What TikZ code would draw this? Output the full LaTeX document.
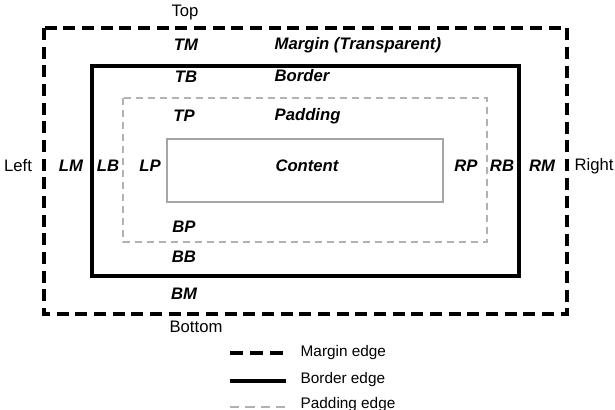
\documentclass[tikz,border=0pt]{standalone}
\usepackage{fontspec}
\setmainfont{Liberation Sans}

\begin{document}
\begin{tikzpicture}[x=0.75pt, y=-0.75pt,
    marginedge/.style={line width=3pt, dash pattern=on 9pt off 5pt},
    borderedge/.style={line width=3pt},
    paddingedge/.style={draw=gray!60, line width=0.9pt, dash pattern=on 5.5pt off 3.5pt},
    contentedge/.style={draw=gray!70, line width=0.8pt},
    side/.style={font=\fontsize{12.5}{14}\selectfont},
    code/.style={font=\fontsize{12.5}{14}\selectfont\bfseries\itshape},
    area/.style={code, anchor=west},
    legendtext/.style={font=\fontsize{11.5}{13}\selectfont, anchor=west}]
                            \useasboundingbox (0, 0) rectangle (615, 410);

                            % the four boxes
                            \draw [marginedge] (44, 28) rectangle (567, 314);
                            \draw [borderedge] (92, 66) rectangle (519, 276);
                            \draw [paddingedge] (123, 98) rectangle (487, 242);
                            \draw [contentedge] (167, 139) rectangle (443, 202);

                            \node (top)[side] at (185, 12) {Top};
                            \node (bottom)[side] at (196, 327) {Bottom};
                            \node (left)[side] at (18, 166) {Left};
                            \node (right)[side] at (594, 166) {Right};

                            \node (TM)[code] at (186, 45) {TM};
                            \node (TB)[code] at (186, 77) {TB};
                            \node (TP)[code] at (184, 116) {TP};
                            \node (BP)[code] at (184, 227) {BP};
                            \node (BB)[code] at (184, 257) {BB};
                            \node (BM)[code] at (184, 294) {BM};

                            \node (LM)[code] at (71, 166) {LM};
                            \node (LB)[code] at (108, 166) {LB};
                            \node (LP)[code] at (150, 166) {LP};
                            \node (RP)[code] at (466, 166) {RP};
                            \node (RB)[code] at (502, 166) {RB};
                            \node (RM)[code] at (542, 166) {RM};

                            \node (margin)[area] at (270, 45) {Margin (Transparent)};
                            \node (border)[area] at (270, 76) {Border};
                            \node (padding)[area] at (270, 116) {Padding};
                            \node (content)[code] at (307, 166) {Content};

                            % legend
                            \coordinate (m1) at (230, 353);
                            \coordinate (m2) at (286, 353);
                            \coordinate (b1) at (230, 381);
                            \coordinate (b2) at (286, 381);
                            \coordinate (p1) at (230, 407);
                            \coordinate (p2) at (286, 407);

                            \draw [marginedge, dash pattern=on 10pt off 5pt] (m1) -- (m2);
                            \draw [borderedge] (b1) -- (b2);
                            \draw [paddingedge, dash pattern=on 7pt off 4.5pt] (p1) -- (p2);

                            \node (marginkey)[legendtext] at (296, 353) {Margin edge};
                            \node (borderkey)[legendtext] at (296, 380) {Border edge};
                            \node (paddingkey)[legendtext] at (296, 405) {Padding edge};
                        \end{tikzpicture}
\end{document}
